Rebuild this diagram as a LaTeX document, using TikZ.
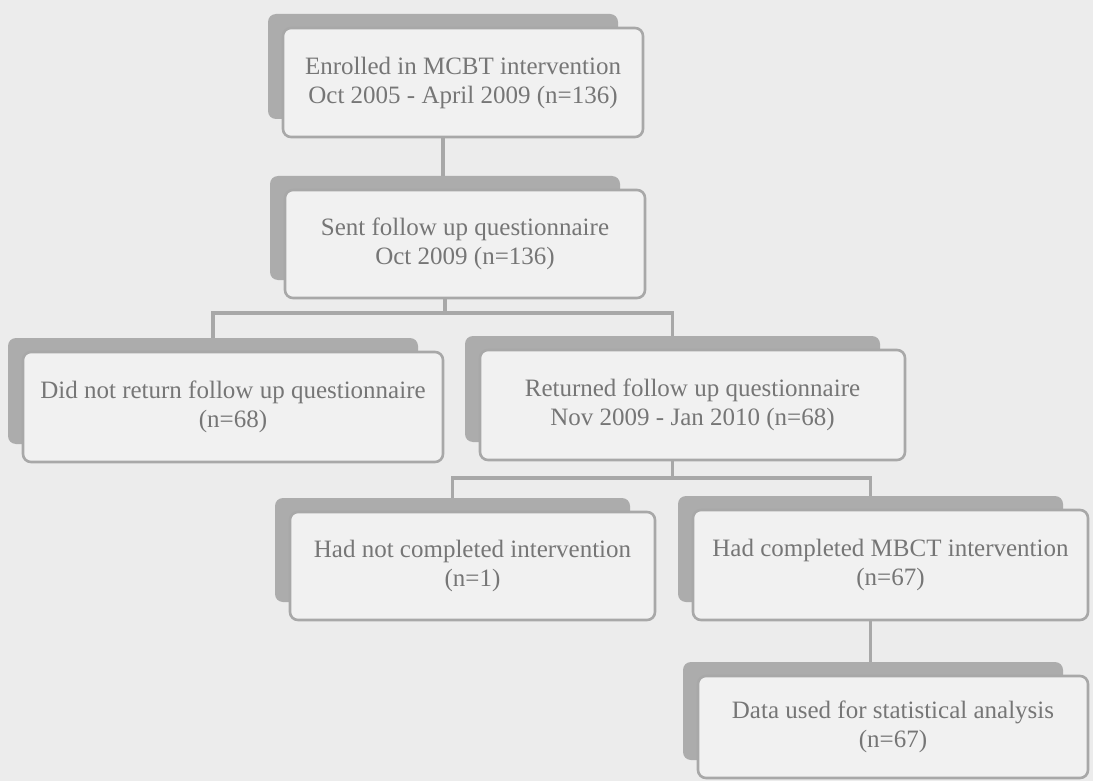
\documentclass[tikz,border=0pt]{standalone}
\usepackage{fontspec}
\setmainfont{Liberation Serif}
\usepackage{tikz}
\usetikzlibrary{positioning}
\definecolor{pagecolor}{RGB}{236,236,236}
\definecolor{boxcolor}{RGB}{241,241,241}
\definecolor{edgecolor}{RGB}{168,168,168}
\definecolor{shadecolor}{RGB}{172,172,172}
\definecolor{inkcolor}{RGB}{118,118,118}

\begin{document}
\begin{tikzpicture}[
    x=1pt, y=-1pt,
    every node/.style={font=\fontsize{25}{29}\selectfont, text=inkcolor, align=center},
    flowbox/.style={draw=edgecolor, line width=2.6pt, fill=boxcolor, rounded corners=8pt, inner sep=0pt},
    shadebox/.style={fill=shadecolor, rounded corners=8pt, inner sep=0pt},
    link/.style={draw=edgecolor, line width=3.5pt},
]
    % Page
    \fill[pagecolor] (0,0) rectangle (1093,781);
    \useasboundingbox (0,0) rectangle (1093,781);

    % Enrolled
    \node[shadebox, minimum width=350pt, minimum height=105pt] (enrolled-sh) at (443,66.5) {};
    \node[flowbox, minimum width=360pt, minimum height=109pt] (enrolled) at (463,82.5)
        {Enrolled in MCBT intervention\\Oct 2005 - April 2009 (n=136)};

    % Sent
    \node[shadebox, minimum width=350pt, minimum height=104pt] (sent-sh) at (445,228) {};
    \node[flowbox, minimum width=360pt, minimum height=108pt] (sent) at (465,244)
        {Sent follow up questionnaire\\Oct 2009 (n=136)};

    % Did not return / returned
    \node[shadebox, minimum width=410pt, minimum height=106pt] (noreturn-sh) at (213,391) {};
    \node[flowbox, minimum width=420pt, minimum height=110pt] (noreturn) at (233,407)
        {Did not return follow up questionnaire\\(n=68)};
    \node[shadebox, minimum width=415pt, minimum height=106pt] (returned-sh) at (672.5,389) {};
    \node[flowbox, minimum width=425pt, minimum height=110pt] (returned) at (692.5,405)
        {Returned follow up questionnaire\\Nov 2009 - Jan 2010 (n=68)};

    % Completion
    \node[shadebox, minimum width=355pt, minimum height=104pt] (notdone-sh) at (452.5,550) {};
    \node[flowbox, minimum width=365pt, minimum height=108pt] (notdone) at (472.5,566)
        {Had not completed intervention\\(n=1)};
    \node[shadebox, minimum width=385pt, minimum height=106pt] (done-sh) at (870.5,549) {};
    \node[flowbox, minimum width=395pt, minimum height=110pt] (done) at (890.5,565)
        {Had completed MBCT intervention\\(n=67)};

    % Analysis
    \node[shadebox, minimum width=380pt, minimum height=98pt] (analysed-sh) at (873,711) {};
    \node[flowbox, minimum width=390pt, minimum height=102pt] (analysed) at (893,727)
        {Data used for statistical analysis\\(n=67)};

    % Connectors
    \coordinate (split1) at (0,313);
    \coordinate (split2) at (0,478);
    \draw[link] (enrolled-sh.south |- enrolled.south) -- (enrolled-sh.south |- sent-sh.north);
    \draw[link] (sent-sh.south |- sent.south) -- (sent-sh.south |- split1);
    \draw[link] (noreturn-sh.north) -- (noreturn-sh.north |- split1)
        -- (returned-sh.north |- split1) -- (returned-sh.north);
    \draw[link] (returned-sh.south |- returned.south) -- (returned-sh.south |- split2);
    \draw[link] (notdone-sh.north) -- (notdone-sh.north |- split2)
        -- (done-sh.north |- split2) -- (done-sh.north);
    \draw[link] (done-sh.south |- done.south) -- (done-sh.south |- analysed-sh.north);
\end{tikzpicture}
\end{document}
